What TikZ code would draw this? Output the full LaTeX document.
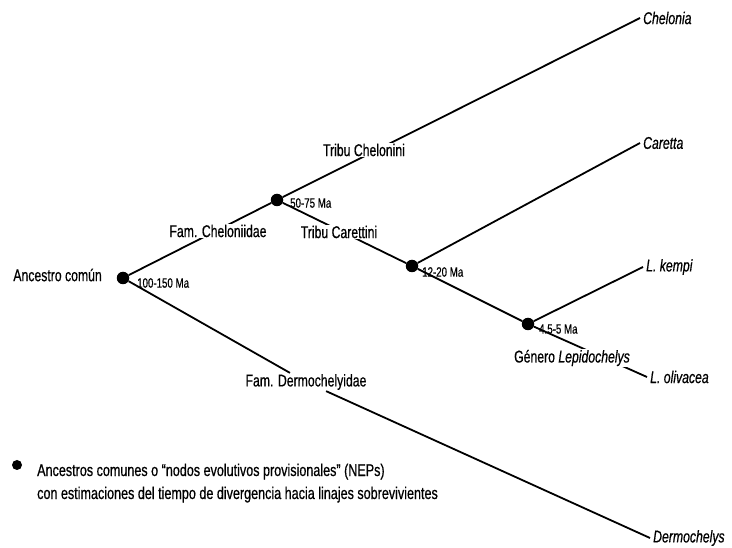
\documentclass[tikz,border=0pt]{standalone}
\usepackage{fontspec}
\setmainfont{Liberation Sans}[FakeStretch=0.72, RawFeature={embolden=0.6}]
\newfontfamily\legfont{Liberation Sans}[FakeStretch=0.74, RawFeature={embolden=0.6}]
\begin{document}
\begin{tikzpicture}[x=1pt,y=-1pt,
  branch/.style={line width=1.8pt},
  dot/.style={circle,fill=black,inner sep=0pt,minimum size=12.5pt},
  lab/.style={font=\fontsize{17}{20}\selectfont, inner sep=1pt},
  onlab/.style={lab, fill=white},
  tiplab/.style={font=\fontsize{17}{20}\selectfont\itshape, anchor=west, inner sep=3pt},
  age/.style={font=\fontsize{13.5}{16}\selectfont, anchor=west, inner sep=0pt},
  legtext/.style={font=\legfont\fontsize{17}{20}\selectfont, anchor=base west, inner sep=0pt}]
\useasboundingbox (0,0) rectangle (732,548);
% internal nodes
\node[dot] (root) at (123,278) {};
\node[dot] (n2) at (277,200) {};
\node[dot] (n3) at (412,266) {};
\node[dot] (n4) at (528,324) {};
% tips
\node[tiplab] (chel) at (640,18) {Chelonia};
\node[tiplab] (car) at (640,143) {Caretta};
\node[tiplab] (kem) at (643,267) {L. kempi};
\node[tiplab] (oli) at (647,377) {L. olivacea};
\node[tiplab] (der) at (650,538) {Dermochelys};
\node[lab] (famderm) at (306,382) {Fam. Dermochelyidae};
% branches
\draw[branch] (root) -- (n2);
\draw[branch] (n2) -- (chel.west);
\draw[branch] (n2) -- (n3);
\draw[branch] (n3) -- (car.west);
\draw[branch] (n3) -- (n4);
\draw[branch] (n4) -- (kem.west);
\draw[branch] (n4) -- (oli.west);
\draw[branch] (root) -- (famderm) -- (der.west);
% labels on branches
\node[onlab] (famchel) at (218,231) {Fam. Cheloniidae};
\node[onlab] (tchel) at (364,150) {Tribu Chelonini};
\node[onlab] (tcar) at (339,232) {Tribu Carettini};
\node[onlab] (gen) at (572,358) {Género \textit{Lepidochelys}};
% other labels
\node[lab, anchor=east] (anc) at (103,275) {Ancestro común};
\node[age] (a1) at (137,283) {100-150 Ma};
\node[age] (a2) at (290,203) {50-75 Ma};
\node[age] (a3) at (422,272) {12-20 Ma};
\node[age] (a4) at (539,329) {4.5-5 Ma};
% legend
\node[circle,fill=black,inner sep=0pt,minimum size=10pt] (legdot) at (17,465) {};
\node[legtext] (leg1) at (37,476) {Ancestros comunes o “nodos evolutivos provisionales” (NEPs)};
\node[legtext] (leg2) at (37,499) {con estimaciones del tiempo de divergencia hacia linajes sobrevivientes};
\end{tikzpicture}
\end{document}
